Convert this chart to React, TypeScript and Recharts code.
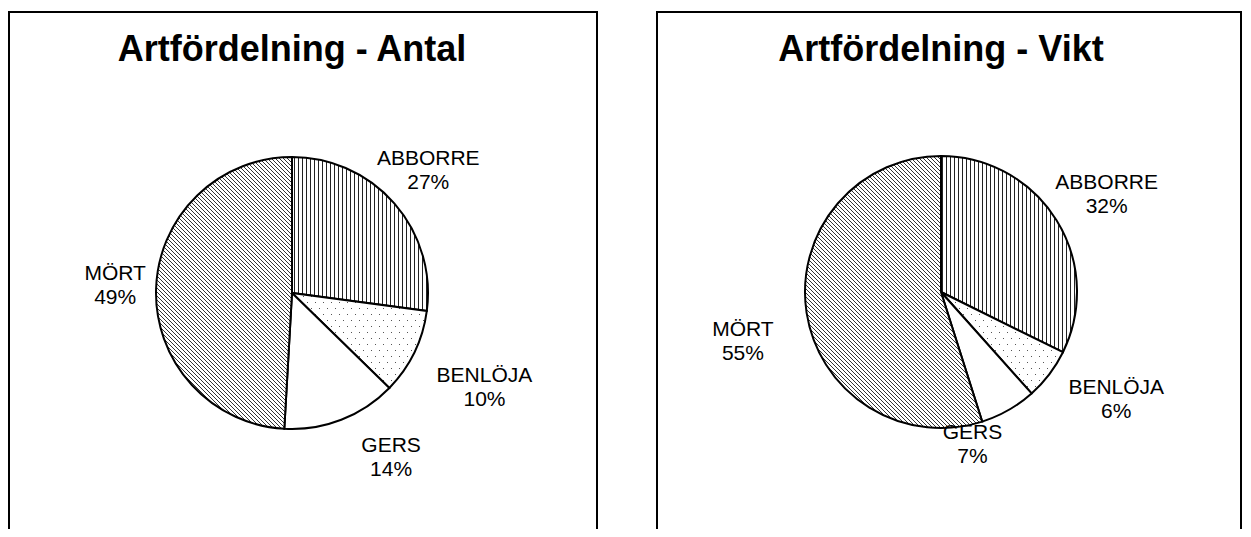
import { PieChart, Pie, Cell } from 'recharts';

const species = ['ABBORRE', 'BENLÖJA', 'GERS', 'MÖRT'];
const antalShare = [27.1, 10.2, 13.6, 49.1];
const viktShare = [32.3, 6.1, 6.7, 54.9];

const fills = ['url(#vlines)', 'url(#dots)', '#ffffff', 'url(#diag)'];

// label placement: extra radius past the rim and angle nudge (deg, clockwise)
const antalLabelExtra = [48, 78, 55, 41];
const antalLabelNudge = [-1, 0, -10, 1];
const viktLabelExtra = [57, 69, 19, 68];
const viktLabelNudge = [1, -6, 18, -5];

const RADIUS = 136;
const FONT = '"Liberation Sans", Arial, sans-serif';

function Patterns() {
  return (
    <defs>
      <pattern id="vlines" patternUnits="userSpaceOnUse" width="4" height="4">
        <rect width="4" height="4" fill="#fff" />
        <line x1="0.5" y1="0" x2="0.5" y2="4" stroke="#222" strokeWidth="1" />
      </pattern>
      <pattern id="dots" patternUnits="userSpaceOnUse" width="8" height="12">
        <rect width="8" height="12" fill="#fff" />
        <rect x="1" y="1" width="1" height="1" fill="#555" />
        <rect x="5" y="7" width="1" height="1" fill="#555" />
      </pattern>
      <pattern id="diag" patternUnits="userSpaceOnUse" width="4" height="4">
        <rect width="4" height="4" fill="#fff" />
        <path d="M-1,-1 L5,5 M-1,3 L1,5 M3,-1 L5,1" stroke="#333" strokeWidth="1" />
      </pattern>
    </defs>
  );
}

type PanelProps = {
  title: string;
  values: number[];
  labelExtra: number[];
  labelNudge: number[];
  left: number;
  width: number;
  cx: number;
  cy: number;
};

function Panel({ title, values, labelExtra, labelNudge, left, width, cx, cy }: PanelProps) {
  const data = species.map((name, i) => ({ name, value: values[i] }));

  const renderLabel = (props: any) => {
    const { index, midAngle, percent } = props;
    const r = RADIUS + labelExtra[index];
    const a = ((midAngle - labelNudge[index]) * Math.PI) / 180;
    const x = props.cx + r * Math.cos(a);
    const y = props.cy - r * Math.sin(a);
    return (
      <text
        key={`lbl-${index}`}
        x={x}
        y={y}
        textAnchor="middle"
        fontFamily={FONT}
        fontSize={21}
        fill="#000"
      >
        <tspan x={x} y={y - 4.5}>{data[index].name}</tspan>
        <tspan x={x} y={y + 19.5}>{`${Math.round(percent * 100)}%`}</tspan>
      </text>
    );
  };

  return (
    <div
      style={{
        position: 'absolute',
        left,
        top: 11,
        width,
        height: 600,
        border: '2px solid #000',
        boxSizing: 'border-box',
        background: '#fff',
      }}
    >
      <div
        style={{
          position: 'absolute',
          left: cx - 300,
          top: 18,
          width: 600,
          textAlign: 'center',
          fontFamily: FONT,
          fontWeight: 'bold',
          fontSize: 36,
          lineHeight: '36px',
          whiteSpace: 'nowrap',
        }}
      >
        {title}
      </div>
      <div style={{ position: 'absolute', left: 0, top: 0 }}>
        <PieChart width={width - 4} height={540} margin={{ top: 0, right: 0, bottom: 0, left: 0 }}>
          <Patterns />
          <Pie
            data={data}
            dataKey="value"
            nameKey="name"
            cx={cx}
            cy={cy}
            outerRadius={RADIUS}
            startAngle={90}
            endAngle={-270}
            stroke="#000"
            strokeWidth={2}
            label={renderLabel}
            labelLine={false}
            isAnimationActive={false}
          >
            {data.map((d, i) => (
              <Cell key={d.name} fill={fills[i]} />
            ))}
          </Pie>
        </PieChart>
      </div>
    </div>
  );
}

export default function App() {
  return (
    <div
      style={{
        position: 'relative',
        width: 1251,
        height: 537,
        margin: -8,
        overflow: 'hidden',
        background: '#fff',
      }}
    >
      <Panel
        title="Artfördelning - Antal"
        values={antalShare}
        labelExtra={antalLabelExtra}
        labelNudge={antalLabelNudge}
        left={8}
        width={590}
        cx={282}
        cy={280}
      />
      <Panel
        title="Artfördelning - Vikt"
        values={viktShare}
        labelExtra={viktLabelExtra}
        labelNudge={viktLabelNudge}
        left={656}
        width={586}
        cx={283}
        cy={279}
      />
    </div>
  );
}
